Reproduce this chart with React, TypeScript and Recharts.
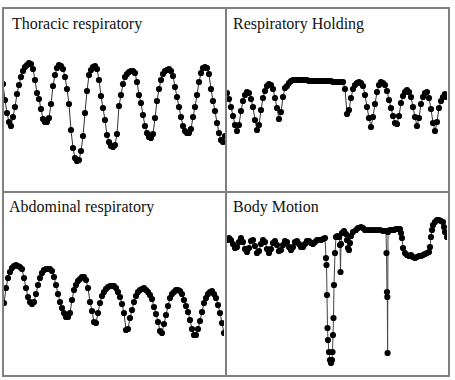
import { LineChart, Line, XAxis, YAxis } from "recharts";

// signal amplitudes, one sample every ~2px
const thoracic = [
  116, 100, 87, 78, 74, 83, 93, 106, 115, 123, 129, 133, 135, 137, 136, 131, 120, 107, 101, 91,
  81, 78, 78, 82, 96, 114, 125, 132, 135, 134, 131, 123, 111, 96, 70, 52, 42, 39, 40, 49,
  64, 87, 109, 125, 130, 133, 134, 131, 120, 104, 92, 80, 65, 58, 54, 53, 55, 66, 94, 105,
  116, 123, 126, 128, 129, 129, 127, 118, 105, 97, 85, 74, 67, 63, 62, 66, 82, 99, 111, 120,
  126, 129, 130, 131, 129, 124, 113, 103, 93, 83, 74, 69, 67, 67, 71, 83, 93, 105, 118, 127,
  132, 133, 132, 126, 111, 99, 89, 77, 67, 60, 58, 64,
];

const holding = [
  107, 101, 93, 84, 75, 69, 75, 89, 99, 105, 108, 107, 101, 93, 80, 70, 75, 90, 102, 109,
  114, 116, 115, 111, 102, 92, 81, 88, 103, 112, 114, 117, 119, 120,
  120, 120, 120, 120, 120, 120, 120, 119, 119, 119, 119, 119, 119, 119, 119, 119, 119, 119,
  119, 118, 118, 118, 118, 118, 118,
  111, 86, 90, 102, 111, 115, 117, 118, 117, 114, 105, 93, 82, 73, 83, 96, 108, 115, 118, 117,
  115, 109, 100, 92, 84, 77, 76, 84, 97, 104, 108, 110, 108, 103, 93, 83, 74, 82, 96, 103,
  107, 108, 102, 91, 77, 69, 78, 92, 99, 103, 106, 103,
];

const abdominal = [
  97, 112, 122, 128, 132, 134, 135, 134, 133, 131, 122, 112, 103, 98, 96, 98, 106, 115, 122, 127,
  130, 131, 131, 131, 129, 123, 115, 106, 98, 92, 87, 83, 83, 87, 100, 110, 115, 119, 121, 123,
  123, 120, 112, 98, 89, 78, 77, 87, 97, 104, 108, 111, 113, 114, 114, 114, 112, 108, 103, 96,
  87, 70, 71, 82, 90, 98, 104, 108, 110, 111, 112, 110, 108, 105, 101, 93, 86, 78, 69, 67,
  76, 85, 94, 102, 106, 108, 110, 110, 109, 106, 100, 94, 88, 80, 71, 65, 65, 71, 79, 88,
  97, 102, 106, 108, 109, 106, 102, 95, 87, 77, 67,
];

// body motion has uneven sample times around the spikes
const bodyTime = [
  1, 3, 5, 7, 9, 11, 13, 15, 17, 19, 21, 23, 25, 27, 29, 31, 33, 35, 37, 39,
  41, 43, 45, 47, 49, 51, 53, 55, 57, 59, 61, 63, 65, 67, 69, 71, 73, 75, 77, 79,
  81, 83, 85, 87, 89, 91, 93, 95, 97, 99,
  100, 100.5, 101, 101.5, 102, 103, 104, 105, 106, 106.5, 107, 107.5, 108, 109, 110,
  111.5, 113, 114, 114.5, 115, 116, 118, 120, 121, 122, 123, 124, 125, 127, 130, 132, 135, 137,
  139, 142, 145, 148, 151, 154, 157, 159, 160,
  160.5, 161, 161.3, 161.6, 162,
  164, 166, 168, 170, 172, 174, 175, 176, 177, 179, 181, 183, 185, 187, 189, 191, 193, 195,
  197, 199, 201, 203, 204, 205, 206, 207, 209, 211, 213, 215, 217, 218, 219, 221,
];
const bodyValues = [
  160, 162, 160, 156, 152, 153, 158, 162, 158, 151, 148, 152, 159, 160, 154, 147, 149, 156, 160, 158,
  151, 147, 151, 157, 159, 155, 149, 150, 155, 159, 158, 153, 150, 153, 158, 159, 156, 153, 153, 156,
  159, 159, 157, 156, 158, 160, 160, 160, 161, 162,
  142, 135, 105, 72, 60, 48, 40, 37, 40, 48, 65, 82, 115, 147, 163,
  164, 163, 155, 128, 156, 167, 169, 166, 160, 152, 150, 157, 164, 168, 170, 172, 173, 172,
  170, 170, 170, 170, 170, 170, 169, 169, 169,
  147, 108, 103, 47, 168,
  170, 170, 170, 171, 171, 171, 167, 162, 152, 147, 145, 144, 145, 143, 142, 143, 144, 144,
  145, 146, 147, 148, 153, 163, 170, 175, 178, 180, 180, 179, 178, 173, 168, 163,
];

const titles = ["Thoracic respiratory", "Respiratory Holding", "Abdominal respiratory", "Body Motion"];

const dotStyle = { r: 3.1, fill: "#000", stroke: "none" };

function Trace({ values, width, domain }: { values: number[]; width: number; domain: [number, number] }) {
  const rows = values.map((v, i) => ({ i, v }));
  return (
    <LineChart width={width} height={184} data={rows} margin={{ top: 0, right: 0, bottom: 0, left: 0 }}>
      <XAxis dataKey="i" hide />
      <YAxis hide domain={domain} allowDataOverflow />
      <Line dataKey="v" stroke="#333" strokeWidth={1} dot={dotStyle} activeDot={false}
        isAnimationActive={false} />
    </LineChart>
  );
}

function BodyTrace() {
  const rows = bodyTime.map((t, i) => ({ t, v: bodyValues[i] }));
  return (
    <LineChart width={220} height={184} data={rows} margin={{ top: 0, right: 0, bottom: 0, left: 0 }}>
      <XAxis dataKey="t" type="number" domain={[1, 221]} hide />
      <YAxis hide domain={[24, 208]} allowDataOverflow />
      <Line dataKey="v" stroke="#444" strokeWidth={1} dot={dotStyle} activeDot={false}
        isAnimationActive={false} />
    </LineChart>
  );
}

export default function App() {
  const border = "#808080";
  return (
    <div style={{ position: "fixed", left: 0, top: 0, width: 455, height: 380, background: "#fff" }}>
      <div style={{ position: "absolute", left: 3, top: 8 }}>
        <Trace values={thoracic} width={222} domain={[8, 192]} />
      </div>
      <div style={{ position: "absolute", left: 227, top: 8 }}>
        <Trace values={holding} width={220} domain={[8, 192]} />
      </div>
      <div style={{ position: "absolute", left: 4, top: 192 }}>
        <Trace values={abdominal} width={220} domain={[24, 208]} />
      </div>
      <div style={{ position: "absolute", left: 227, top: 192 }}>
        <BodyTrace />
      </div>

      <div style={{ position: "absolute", left: 2, top: 7, width: 448, height: 370, boxSizing: "border-box",
        border: `2px solid ${border}` }} />
      <div style={{ position: "absolute", left: 225, top: 7, width: 2, height: 370, background: border }} />
      <div style={{ position: "absolute", left: 2, top: 191, width: 448, height: 2, background: border }} />

      <svg width={455} height={380} style={{ position: "absolute", left: 0, top: 0 }}>
        <g fontFamily="'Liberation Serif', 'Times New Roman', serif" fontSize={16} fill="#111">
          <text x={12} y={29}>{titles[0]}</text>
          <text x={233} y={29}>{titles[1]}</text>
          <text x={9} y={212}>{titles[2]}</text>
          <text x={233} y={212}>{titles[3]}</text>
        </g>
      </svg>
    </div>
  );
}
